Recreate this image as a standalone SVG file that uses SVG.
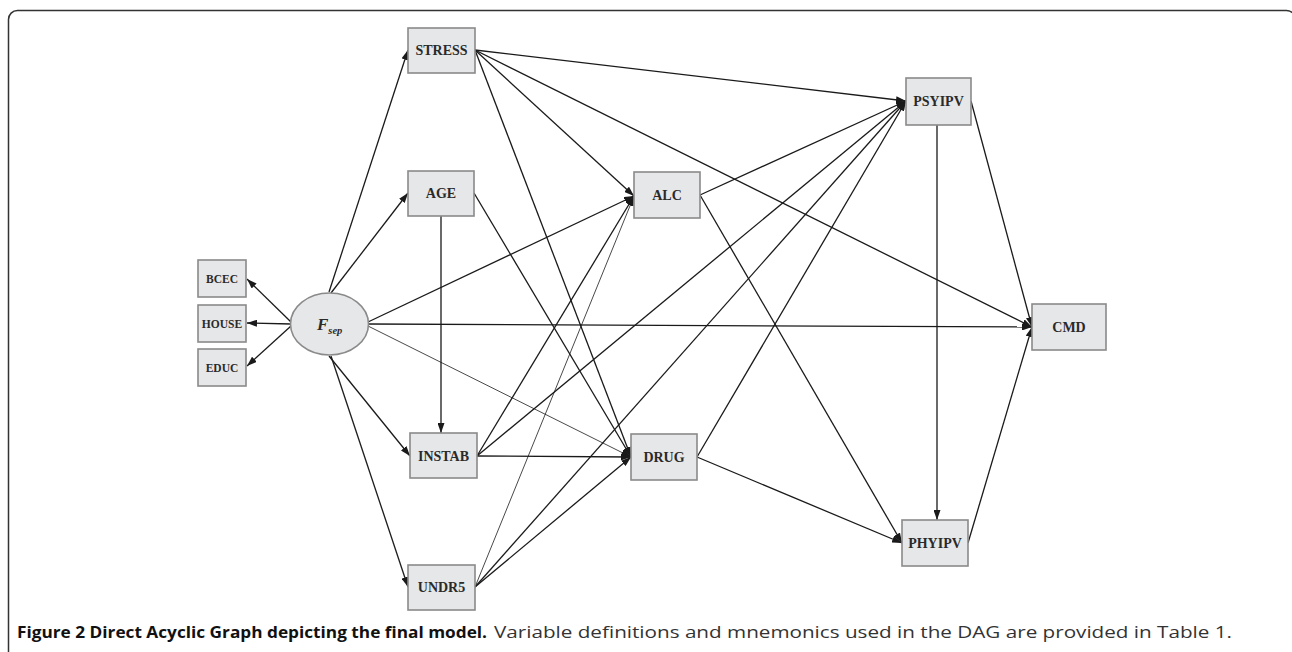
<svg xmlns="http://www.w3.org/2000/svg" width="1292" height="652" viewBox="0 0 1292 652">
<defs>
<marker id="ah" viewBox="0 0 10 7" refX="10" refY="3.5" markerWidth="10" markerHeight="7" markerUnits="userSpaceOnUse" orient="auto">
<path d="M0,0 L10,3.5 L0,7 z" fill="#1a1a1a"/>
</marker>
<style>
.box{fill:#e6e7e8;stroke:#8a8a8a;stroke-width:1.6}
.lbl{font-family:"Liberation Serif","Times New Roman",serif;font-weight:bold;font-size:14px;fill:#2a2a2a;text-anchor:middle}
.sm{font-size:11.5px}
.e{stroke:#1a1a1a;stroke-width:1.3;fill:none;marker-end:url(#ah)}
.t{stroke-width:0.8}
.cap{font-family:"Open Sans","Liberation Sans",sans-serif;font-size:16px}
</style>
</defs>
<rect x="0" y="0" width="1292" height="652" fill="#ffffff"/>
<rect x="8.5" y="10.5" width="1287" height="660" rx="9" fill="none" stroke="#333" stroke-width="1.5"/>

<g id="connectors">
<line class="e" x1="291" y1="322" x2="247" y2="279"/>
<line class="e" x1="291" y1="324" x2="247" y2="323"/>
<line class="e" x1="291" y1="326" x2="247" y2="366"/>
<line class="e" x1="329" y1="292" x2="408" y2="50"/>
<line class="e" x1="331" y1="293" x2="408" y2="193"/>
<line class="e" x1="368" y1="322" x2="634" y2="196"/>
<line class="e" x1="368" y1="324" x2="1032" y2="327"/>
<line class="e t" x1="368" y1="326" x2="631" y2="457"/>
<line class="e" x1="329" y1="356" x2="410" y2="456"/>
<line class="e" x1="331" y1="356" x2="408" y2="587"/>

<line class="e" x1="475" y1="50" x2="906" y2="101"/>
<line class="e" x1="475" y1="50" x2="634" y2="196"/>
<line class="e" x1="475" y1="50" x2="631" y2="457"/>
<line class="e" x1="475" y1="50" x2="1032" y2="327"/>

<line class="e" x1="441" y1="216" x2="441" y2="433"/>
<line class="e" x1="474" y1="193" x2="631" y2="457"/>

<line class="e" x1="700" y1="195" x2="906" y2="101"/>
<line class="e" x1="700" y1="195" x2="902" y2="543"/>

<line class="e" x1="477" y1="456" x2="634" y2="196"/>
<line class="e" x1="477" y1="456" x2="906" y2="101"/>
<line class="e" x1="477" y1="456" x2="631" y2="457"/>

<line class="e t" x1="475" y1="587" x2="634" y2="196"/>
<line class="e" x1="475" y1="587" x2="906" y2="101"/>
<line class="e" x1="475" y1="587" x2="631" y2="457"/>

<line class="e" x1="697" y1="457" x2="906" y2="101"/>
<line class="e" x1="697" y1="457" x2="902" y2="543"/>

<line class="e" x1="937" y1="125" x2="937" y2="520"/>
<line class="e" x1="971" y1="101" x2="1032" y2="327"/>
<line class="e" x1="968" y1="543" x2="1032" y2="327"/>
</g>

<g id="BCEC"><rect class="box" x="198" y="260" width="48" height="37"/><text class="lbl sm" x="222" y="283">BCEC</text></g>
<g id="HOUSE"><rect class="box" x="198" y="305" width="48" height="37"/><text class="lbl sm" x="222" y="328">HOUSE</text></g>
<g id="EDUC"><rect class="box" x="198" y="349" width="48" height="37"/><text class="lbl sm" x="222" y="372">EDUC</text></g>
<g id="Fsep"><ellipse cx="329.5" cy="324" rx="39" ry="31" fill="#e6e7e8" stroke="#8a8a8a" stroke-width="1.6"/><text x="317" y="330" font-family="&quot;Liberation Serif&quot;,serif" font-weight="bold" font-style="italic" font-size="17" fill="#2a2a2a">F<tspan font-size="10.5" dy="4">sep</tspan></text></g>
<g id="STRESS"><rect class="box" x="408" y="28" width="67" height="45"/><text class="lbl" x="441.5" y="55">STRESS</text></g>
<g id="AGE"><rect class="box" x="408" y="171" width="66" height="45"/><text class="lbl" x="441" y="198">AGE</text></g>
<g id="ALC"><rect class="box" x="634" y="172" width="66" height="46"/><text class="lbl" x="667" y="200">ALC</text></g>
<g id="PSYIPV"><rect class="box" x="906" y="78" width="65" height="47"/><text class="lbl" x="938.5" y="106">PSYIPV</text></g>
<g id="CMD"><rect class="box" x="1032" y="304" width="74" height="46"/><text class="lbl" x="1069" y="332">CMD</text></g>
<g id="INSTAB"><rect class="box" x="410" y="433" width="67" height="45"/><text class="lbl" x="443.5" y="461">INSTAB</text></g>
<g id="DRUG"><rect class="box" x="631" y="434" width="66" height="46"/><text class="lbl" x="664" y="462">DRUG</text></g>
<g id="UNDR5"><rect class="box" x="408" y="565" width="67" height="45"/><text class="lbl" x="441.5" y="592">UNDR5</text></g>
<g id="PHYIPV"><rect class="box" x="902" y="520" width="66" height="46"/><text class="lbl" x="935" y="548">PHYIPV</text></g>

<text class="cap" x="17" y="638" font-weight="bold" fill="#111" textLength="470" lengthAdjust="spacingAndGlyphs">Figure 2 Direct Acyclic Graph depicting the final model.</text>
<text class="cap" x="494" y="638" fill="#333" textLength="738" lengthAdjust="spacingAndGlyphs">Variable definitions and mnemonics used in the DAG are provided in Table 1.</text>
</svg>
